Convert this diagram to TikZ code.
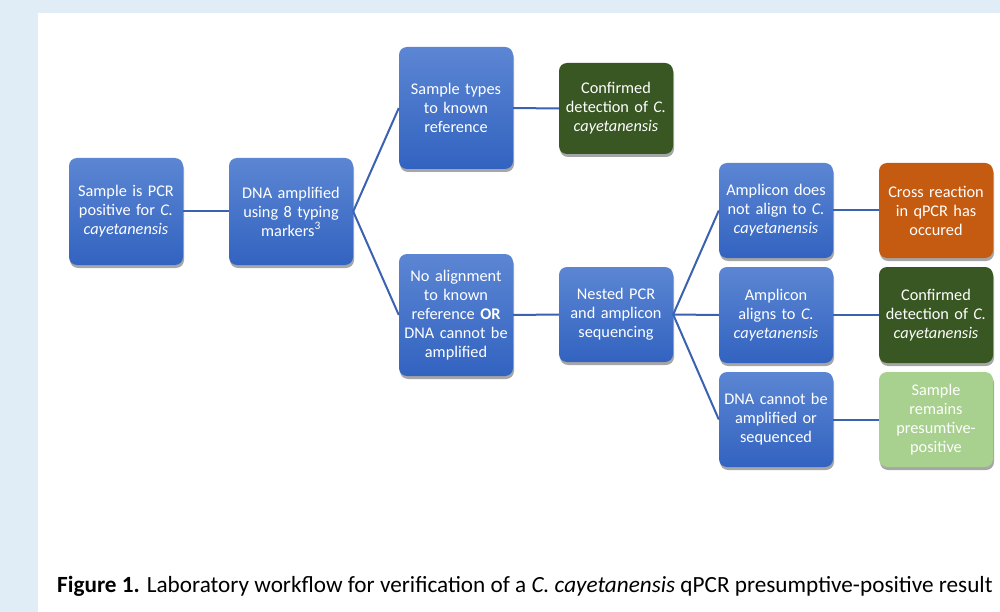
\documentclass[tikz,border=0pt]{standalone}
\usepackage{fontspec}
\setmainfont{Carlito}
\usetikzlibrary{shadows}
\definecolor{bgblue}{RGB}{225,237,246}
\definecolor{btop}{RGB}{92,134,211}
\definecolor{bbot}{RGB}{50,99,192}
\definecolor{dgreen}{RGB}{57,87,34}
\definecolor{orangec}{RGB}{197,90,17}
\definecolor{lgreen}{RGB}{168,208,142}
\definecolor{linec}{RGB}{58,98,176}
\tikzset{
  x=1pt,y=-1pt,
  boxbase/.style={rounded corners=8pt, minimum width=114pt, text width=112pt, align=center,
    text=white, font=\fontsize{16.3}{19}\selectfont, inner sep=0pt,
    drop shadow={shadow xshift=1pt, shadow yshift=-3pt, opacity=0.35, fill=black}},
  bluebox/.style={boxbase, top color=btop, bottom color=bbot},
  greenbox/.style={boxbase, fill=dgreen},
  orangebox/.style={boxbase, fill=orangec},
  lightbox/.style={boxbase, fill=lgreen},
  link/.style={draw=linec, line width=2pt}
}
\begin{document}
\begin{tikzpicture}
\useasboundingbox (0,0) rectangle (1000,612);
\fill[bgblue] (0,0) rectangle (1000,612);
\fill[white] (38,13) rectangle (1000,612);

\node[bluebox, minimum height=107pt] (b1) at (126,211.5) {Sample is PCR\\positive for \textit{C.}\\\textit{cayetanensis}};
\node[bluebox, minimum width=124pt, text width=122pt, minimum height=107pt] (b2) at (291,211.5) {DNA amplified\\using 8 typing\\markers\textsuperscript{3}};
\node[bluebox, minimum height=122pt] (b3) at (456,108) {Sample types\\to known\\reference};
\node[greenbox, minimum height=91pt] (b4) at (616,108.5) {Confirmed\\detection of \textit{C.}\\\textit{cayetanensis}};
\node[bluebox, minimum height=122pt] (b5) at (456,315) {No alignment\\to known\\reference \textbf{OR}\\DNA cannot be\\amplified};
\node[bluebox, minimum height=95pt] (b6) at (616,314.5) {Nested PCR\\and amplicon\\sequencing};
\node[bluebox, minimum height=95pt] (b7) at (776,210.5) {Amplicon does\\not align to \textit{C.}\\\textit{cayetanensis}};
\node[orangebox, minimum height=95pt] (b8) at (936,210.5) {Cross reaction\\in qPCR has\\occured};
\node[bluebox, minimum height=96pt] (b9) at (776,315) {Amplicon\\aligns to \textit{C.}\\\textit{cayetanensis}};
\node[greenbox, minimum height=96pt] (b10) at (936,315) {Confirmed\\detection of \textit{C.}\\\textit{cayetanensis}};
\node[bluebox, minimum height=95pt] (b11) at (776,419.5) {DNA cannot be\\amplified or\\sequenced};
\node[lightbox, minimum height=95pt] (b12) at (936,419.5) {Sample\\remains\\presumtive-\\positive};

\draw[link] (b1.east) -- (b2.west);
\draw[link] (b2.east) -- (b3.west);
\draw[link] (b2.east) -- (b5.west);
\draw[link] (b3.east) -- (b4.west);
\draw[link] (b5.east) -- (b6.west);
\draw[link] (b6.east) -- (b7.west);
\draw[link] (b6.east) -- (b9.west);
\draw[link] (b6.east) -- (b11.west);
\draw[link] (b7.east) -- (b8.west);
\draw[link] (b9.east) -- (b10.west);
\draw[link] (b11.east) -- (b12.west);

\node[anchor=base west, inner sep=0pt, font=\fontsize{23.2}{27}\selectfont] (cap) at (57,592)
  {\textbf{Figure 1.} Laboratory workflow for verification of a \textit{C. cayetanensis} qPCR presumptive-positive result};
\end{tikzpicture}
\end{document}
